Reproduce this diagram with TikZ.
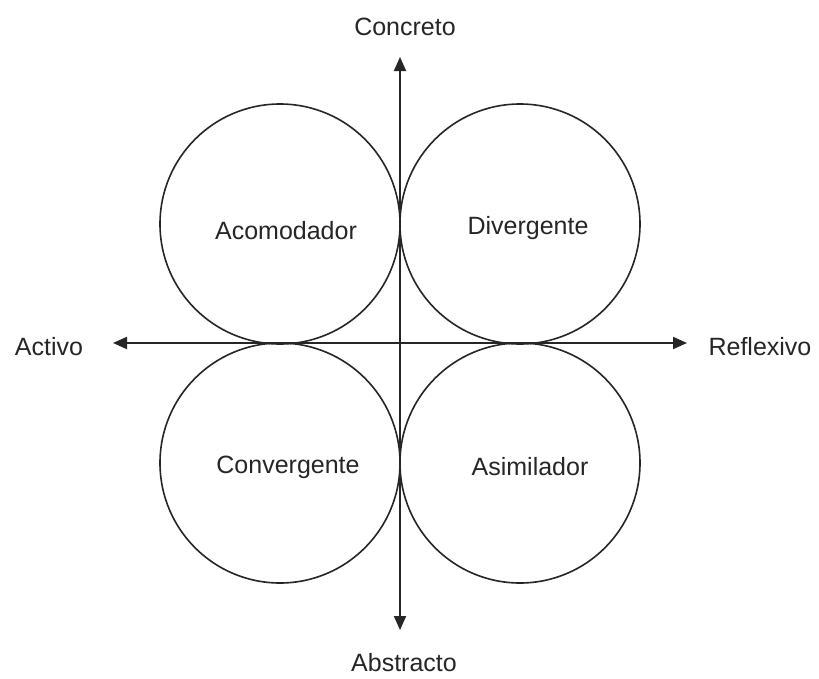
\documentclass[tikz,border=0pt]{standalone}
\usepackage{fontspec}
\setmainfont{Liberation Sans}
\usetikzlibrary{arrows.meta}
\begin{document}
\begin{tikzpicture}[x=1pt,y=-1pt,
  lbl/.style={font=\fontsize{25}{30}\selectfont, inner sep=0pt, text=black!85},
  ring/.style={circle, draw=black!85, line width=1.6pt, minimum size=240pt, inner sep=0pt},
  axis/.style={draw=black!85, line width=2pt, -{Triangle[length=14pt,width=12pt]}}
]
\useasboundingbox (0,0) rectangle (819,678);
\fill[white] (0,0) rectangle (819,678);
% circles
\node[ring] (tl) at (280,224) {};
\node[ring] (tr) at (520,224) {};
\node[ring] (bl) at (280,463) {};
\node[ring] (br) at (520,463) {};
% circle labels
\node[lbl] (acom) at (286,231) {Acomodador};
\node[lbl] (div) at (528,228) {Divergente};
\node[lbl] (conv) at (288,467) {Convergente};
\node[lbl] (asim) at (530,467) {Asimilador};
% axis end points
\coordinate (c) at (400,343);
\coordinate (top) at (400,57);
\coordinate (bot) at (400,630);
\coordinate (lft) at (113,343);
\coordinate (rgt) at (687,343);
\draw[axis] (c) -- (top);
\draw[axis] (c) -- (bot);
\draw[axis] (c) -- (lft);
\draw[axis] (c) -- (rgt);
% axis labels
\node[lbl] (conc) at (405,27) {Concreto};
\node[lbl] (abs) at (404,663) {Abstracto};
\node[lbl] (act) at (49,347) {Activo};
\node[lbl] (ref) at (760,347) {Reflexivo};
\end{tikzpicture}
\end{document}
